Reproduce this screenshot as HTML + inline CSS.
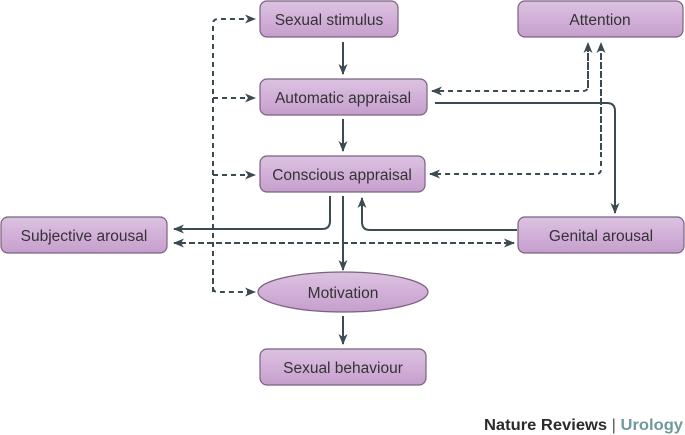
<!DOCTYPE html>
<html><head><meta charset="utf-8"><style>
html,body{margin:0;padding:0;background:#fff;}
svg{display:block;}
text{font-family:"Liberation Sans",sans-serif;}
</style></head><body>
<svg width="685" height="435" viewBox="0 0 685 435" xmlns="http://www.w3.org/2000/svg">
<defs>
<linearGradient id="g" x1="0" y1="0" x2="0" y2="1">
<stop offset="0" stop-color="#dcc3e1"/><stop offset="0.5" stop-color="#d2b0d8"/><stop offset="1" stop-color="#c59fcc"/>
</linearGradient>
<marker id="a" markerWidth="12" markerHeight="12" refX="10" refY="6" orient="auto" markerUnits="userSpaceOnUse">
<path d="M0,1.5 L11,6 L0,10.5 L3,6 Z" fill="#3c4b52"/>
</marker>
</defs>
<g fill="url(#g)" stroke="#7b6180" stroke-width="1.2">
<rect x="260" y="1" width="138" height="36" rx="7"/>
<rect x="518" y="1" width="165" height="36" rx="7"/>
<rect x="260" y="79" width="167" height="36" rx="7"/>
<rect x="260" y="156" width="165" height="36" rx="7"/>
<rect x="1" y="217" width="166" height="36" rx="7"/>
<rect x="518" y="217" width="166" height="36" rx="7"/>
<ellipse cx="343" cy="292" rx="85" ry="20"/>
<rect x="260" y="349" width="166" height="36" rx="7"/>
</g>
<g font-size="15.5" fill="#333" text-anchor="middle">
<text x="329" y="25">Sexual stimulus</text>
<text x="600" y="25">Attention</text>
<text x="343" y="103">Automatic appraisal</text>
<text x="342" y="180">Conscious appraisal</text>
<text x="84" y="241">Subjective arousal</text>
<text x="601" y="241">Genital arousal</text>
<text x="343" y="298">Motivation</text>
<text x="343" y="373">Sexual behaviour</text>
</g>
<g fill="none" stroke="#3c4b52" stroke-width="2">
<path d="M343,42 V74" marker-end="url(#a)"/>
<path d="M343,119 V151" marker-end="url(#a)"/>
<path d="M343,196 V270" marker-end="url(#a)"/>
<path d="M343,316 V344" marker-end="url(#a)"/>
<path d="M330,196 V221 Q330,229 322,229 H174" marker-end="url(#a)"/>
<path d="M517,230 H370 Q362,230 362,222 V198" marker-end="url(#a)"/>
<path d="M435,103 H607 Q615,103 615,111 V213" marker-end="url(#a)"/>
</g>
<g fill="none" stroke="#3c4b52" stroke-width="2" stroke-dasharray="5,4">
<path d="M213,292 V24 Q213,19 218,19 H255" marker-end="url(#a)"/>
<path d="M213,270 V287 Q213,292 218,292 H255" marker-end="url(#a)"/>
<path d="M213,98 H255" marker-end="url(#a)"/>
<path d="M213,175 H255" marker-end="url(#a)"/>
<path d="M588,44 V86 Q588,91 583,91 H432" marker-end="url(#a)"/>
<path d="M601,44 V169 Q601,174 596,174 H430" marker-end="url(#a)"/>
<path d="M588,88 V43" marker-end="url(#a)"/>
<path d="M601,150 V43" marker-end="url(#a)"/>
<path d="M180,243 H514" marker-end="url(#a)"/>
<path d="M510,243 H174" marker-end="url(#a)"/>
</g>
<text x="484" y="430" font-size="16" font-weight="bold" fill="#2b2b2b" textLength="199" lengthAdjust="spacingAndGlyphs">Nature Reviews <tspan font-weight="normal" fill="#555">|</tspan> <tspan fill="#6f9a9c">Urology</tspan></text>
</svg>
</body></html>
